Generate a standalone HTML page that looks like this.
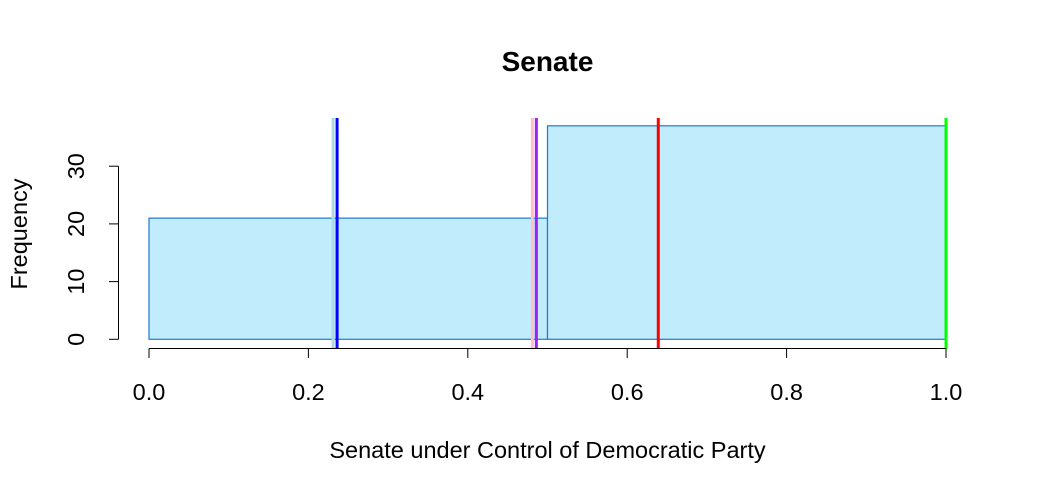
<!DOCTYPE html>
<html><head><meta charset="utf-8"><style>body{margin:0;background:#fff}svg{display:block}text{font-family:"Liberation Sans",Arial,sans-serif}</style></head>
<body>
<svg id="chart" width="1039" height="495" viewBox="0 0 1039 495" xmlns="http://www.w3.org/2000/svg">
<text x="547.5" y="71" font-size="28" font-weight="bold" text-anchor="middle">Senate</text>
<text x="547.5" y="458" font-size="23.5" text-anchor="middle">Senate under Control of Democratic Party</text>
<text transform="translate(27,234) rotate(-90)" font-size="23.5" text-anchor="middle">Frequency</text>
<g id="bars"></g><g id="vlines"></g><g id="xaxis"></g><g id="yaxis"></g>
</svg>
<script>
const binEdges=[0,0.5,1.0];
const counts=[21,37];
const lineValues=[0.231,0.236,0.481,0.486,0.639,1.0];
const lineColors=["#add8e6","#0000ff","#ffc0cb","#a020f0","#ff0000","#00ff00"];
const xTicks=[0,0.2,0.4,0.6,0.8,1.0];
const xTickLabels=["0.0","0.2","0.4","0.6","0.8","1.0"];
const yTicks=[0,10,20,30];
const yTickLabels=["0","10","20","30"];
const NS="http://www.w3.org/2000/svg";
const X=v=>149+v*797;
const Y=v=>339.3-v*5.77;
function mk(tag,attrs,parent){const e=document.createElementNS(NS,tag);for(const k in attrs)e.setAttribute(k,attrs[k]);document.getElementById(parent).appendChild(e);return e;}
counts.forEach((c,i)=>{
 const r=mk('rect',{x:X(binEdges[i]),y:Y(c),width:X(binEdges[i+1])-X(binEdges[i]),height:Y(0)-Y(c),fill:'#c0ecfc',stroke:'#1f78d4','stroke-width':1.2},'bars');
 
 
});
lineValues.forEach((v,i)=>{
 const l=mk('line',{x1:X(v),x2:X(v),y1:118,y2:349,stroke:lineColors[i],'stroke-width':3},'vlines');
 
 
});
let a=mk('line',{x1:X(xTicks[0]),x2:X(xTicks[xTicks.length-1]),y1:348.5,y2:348.5,stroke:'#000','stroke-width':1},'xaxis');


xTicks.forEach((t,i)=>{
 const tk=mk('line',{x1:X(t),x2:X(t),y1:348.5,y2:358,stroke:'#000'},'xaxis');
 
 
 const tx=mk('text',{x:X(t),y:400,'font-size':23.5,'text-anchor':'middle'},'xaxis');
 tx.textContent=xTickLabels[i];
 
 
});
let b=mk('line',{x1:118.5,x2:118.5,y1:Y(yTicks[0]),y2:Y(yTicks[yTicks.length-1]),stroke:'#000'},'yaxis');


yTicks.forEach((t,i)=>{
 const tk=mk('line',{x1:109,x2:118.5,y1:Y(t),y2:Y(t),stroke:'#000'},'yaxis');
 
 
 const tx=mk('text',{transform:`translate(84,${Y(t)}) rotate(-90)`,'font-size':23.5,'text-anchor':'middle'},'yaxis');
 tx.textContent=yTickLabels[i];
 
 
});
</script>
</body></html>
